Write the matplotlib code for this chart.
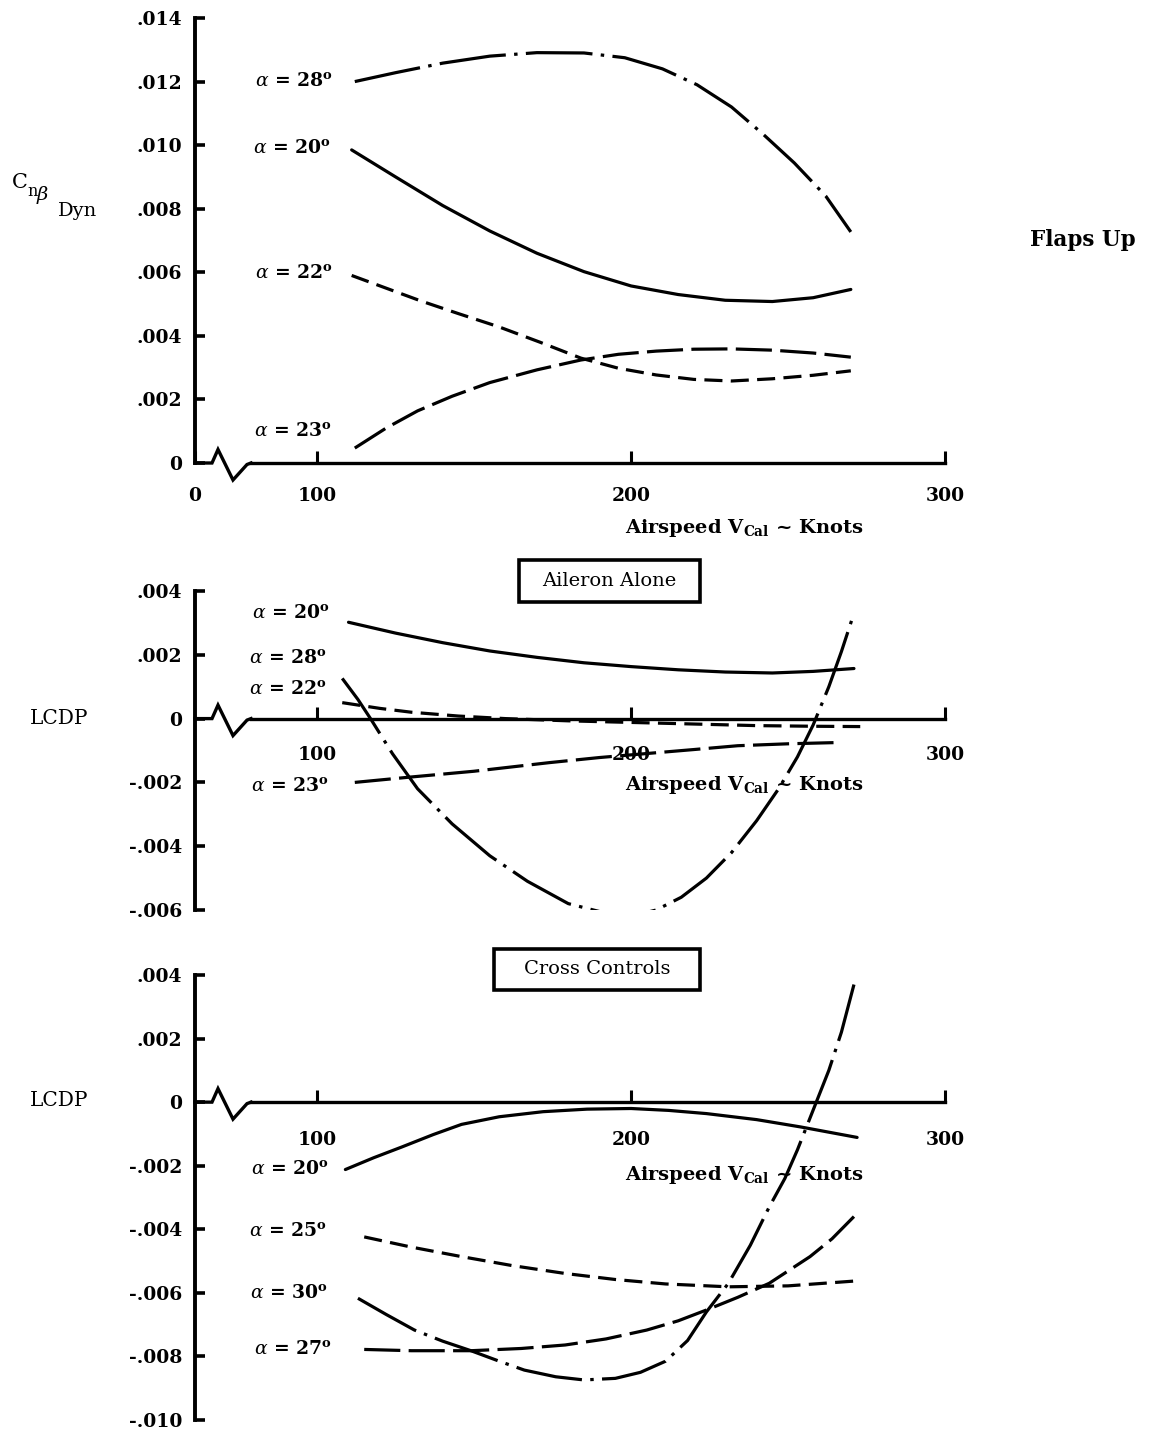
import matplotlib
matplotlib.use("Agg")
import matplotlib.pyplot as plt
from matplotlib.patches import Rectangle

plt.rcParams["font.family"] = ["DejaVu Serif"]
plt.rcParams["mathtext.fontset"] = "dejavuserif"
plt.rcParams["lines.scale_dashes"] = False

# ------------------------------------------------------------------ data
# airspeed (knots) / coefficient

# Flaps up, Cn_beta_dyn
top_a28_x = [112, 125, 140, 155, 170, 185, 198, 210, 221, 232, 242, 252, 262, 270]
top_a28_y = [0.0120, 0.01228, 0.01258, 0.01280, 0.01291, 0.01290, 0.01275, 0.01240,
             0.01190, 0.01120, 0.01035, 0.00944, 0.00840, 0.00727]
top_a20_x = [111, 125, 140, 155, 170, 185, 200, 215, 230, 245, 258, 270]
top_a20_y = [0.00985, 0.0090, 0.0081, 0.0073, 0.0066, 0.00602, 0.00557, 0.0053,
             0.00512, 0.00508, 0.0052, 0.00546]
top_a22_x = [111, 122, 133, 145, 158, 171, 184, 196, 208, 220, 232, 245, 258, 270]
top_a22_y = [0.0059, 0.0055, 0.0051, 0.0047, 0.00428, 0.0038, 0.0033, 0.00298,
             0.00277, 0.00263, 0.00258, 0.00265, 0.00276, 0.0029]
top_a23_x = [112, 122, 132, 143, 155, 170, 184, 196, 208, 220, 232, 245, 258, 270]
top_a23_y = [0.00047, 0.0011, 0.00164, 0.0021, 0.00253, 0.00293, 0.00324, 0.00342,
             0.00352, 0.00358, 0.00359, 0.00355, 0.00346, 0.00333]

# Aileron alone, LCDP
mid_a20_x = [110, 125, 140, 155, 170, 185, 200, 215, 230, 245, 258, 271]
mid_a20_y = [0.00302, 0.00268, 0.00238, 0.00212, 0.00192, 0.00175, 0.00163, 0.00153,
             0.00146, 0.00143, 0.00148, 0.00157]
mid_a28_x = [108, 113, 117, 124, 132, 143, 155, 167, 180, 192, 200, 208, 216, 224,
             232, 240, 247, 253, 258, 263, 267, 271]
mid_a28_y = [0.00126, 0.0006, 0.0, -0.0011, -0.0022, -0.0033, -0.0043, -0.0051,
             -0.0058, -0.0061, -0.0062, -0.0060, -0.0056, -0.0050, -0.0042, -0.0032,
             -0.0022, -0.0012, -0.0002, 0.0010, 0.0021, 0.0033]
mid_a22_x = [108, 120, 130, 145, 160, 180, 200, 220, 240, 258, 273]
mid_a22_y = [0.0005, 0.00032, 0.0002, 0.00008, 0.0, -0.00007, -0.00012, -0.00017,
             -0.00022, -0.00024, -0.00025]
mid_a23_x = [112, 130, 150, 174, 190, 208, 220, 234, 250, 266]
mid_a23_y = [-0.0020, -0.00183, -0.00165, -0.00138, -0.00122, -0.00107, -0.00097,
             -0.00085, -0.00079, -0.00075]

# Cross controls, LCDP
bot_a20_x = [109, 118, 127, 137, 146, 158, 172, 186, 200, 212, 224, 240, 254, 272]
bot_a20_y = [-0.00212, -0.00175, -0.00141, -0.00102, -0.0007, -0.00046, -0.0003,
             -0.00022, -0.0002, -0.00026, -0.00036, -0.00055, -0.00078, -0.00111]
bot_a25_x = [115, 130, 146, 162, 179, 195, 211, 231, 250, 271]
bot_a25_y = [-0.00424, -0.00456, -0.00486, -0.00514, -0.00539, -0.00558, -0.00572,
             -0.00581, -0.00578, -0.00563]
bot_a30_x = [113, 122, 131, 140, 149, 158, 166, 176, 185, 195, 203, 211, 218, 224,
             231, 238, 244, 249, 253, 259, 263, 267, 271]
bot_a30_y = [-0.00617, -0.00668, -0.00717, -0.00752, -0.00782, -0.00815, -0.00843,
             -0.00864, -0.00874, -0.00869, -0.0085, -0.00815, -0.0075, -0.0066,
             -0.0057, -0.0045, -0.0033, -0.0024, -0.0015, 0.0, 0.001, 0.0022, 0.0037]
bot_a27_x = [115, 130, 149, 165, 179, 192, 205, 215, 224, 234, 244, 257, 264, 271]
bot_a27_y = [-0.00778, -0.00782, -0.00782, -0.00775, -0.00764, -0.00745, -0.00717,
             -0.00688, -0.00654, -0.00614, -0.0057, -0.00486, -0.0043, -0.0036]

top_yticks = [0, 0.002, 0.004, 0.006, 0.008, 0.010, 0.012, 0.014]
top_ylabels = ["0", ".002", ".004", ".006", ".008", ".010", ".012", ".014"]
mid_yticks = [-0.006, -0.004, -0.002, 0, 0.002, 0.004]
mid_ylabels = ["-.006", "-.004", "-.002", "0", ".002", ".004"]
bot_yticks = [-0.010, -0.008, -0.006, -0.004, -0.002, 0, 0.002, 0.004]
bot_ylabels = ["-.010", "-.008", "-.006", "-.004", "-.002", "0", ".002", ".004"]

# ------------------------------------------------------------------ layout
W, H = 1162, 1432
K = "black"
XLO, XHI = 61.1, 300          # the broken axis starts at the "0" mark
LEFT_PX, RIGHT_PX = 195, 945

SOLID = "-"
DASH_SHORT = (0, (13, 6))
DASH_LONG = (0, (26, 6))
DASH_DOT = (0, (48, 6, 2.5, 6))

fig = plt.figure(figsize=(W / 100, H / 100), dpi=100)
fig.patch.set_facecolor("white")


def pax(top_px, bot_px):
    return fig.add_axes([LEFT_PX / W, 1 - bot_px / H,
                         (RIGHT_PX - LEFT_PX) / W, (bot_px - top_px) / H])


def ftext(xp, yp, s, **kw):
    kw.setdefault("va", "center")
    kw.setdefault("ha", "left")
    kw.setdefault("fontsize", 13.5)
    kw.setdefault("fontweight", "bold")
    fig.text(xp / W, 1 - yp / H, s, color=K, **kw)


def frame(ax, ylo, yhi, yticks, ylabels, xticks, xlabels, xpad, top_px, bot_px):
    ax.set_xlim(XLO, XHI)
    ax.set_ylim(ylo, yhi)
    for s in ("top", "right"):
        ax.spines[s].set_visible(False)
    ax.spines["left"].set_linewidth(2.8)
    ax.spines["bottom"].set_position(("data", 0))
    ax.spines["bottom"].set_linewidth(2.4)
    sx = (XHI - XLO) / (RIGHT_PX - LEFT_PX)
    sy = (yhi - ylo) / (bot_px - top_px)
    # axis break squiggle next to the spine (pixel offsets)
    brk_dx = [0, 17, 23, 38, 52, 56]
    brk_dy = [0, 0, -13.5, 17, 1.5, 0]
    ax.plot([XLO + d * sx for d in brk_dx], [-d * sy for d in brk_dy],
            color=K, lw=2.4, clip_on=False, solid_joinstyle="miter", zorder=4)
    ax.spines["bottom"].set_bounds(XLO + 56 * sx, XHI)
    ax.set_yticks(yticks)
    ax.set_yticklabels(ylabels, fontsize=13.5, fontweight="bold")
    ax.set_xticks(xticks)
    ax.set_xticklabels(xlabels, fontsize=13.5, fontweight="bold")
    ax.tick_params(axis="y", direction="in", length=7, width=2.6, pad=9)
    ax.tick_params(axis="x", direction="in", length=9, width=2.2, pad=xpad)
    ax.patch.set_alpha(0)


def curve(ax, x, y, ls):
    ax.plot(x, y, color=K, lw=2.3, linestyle=ls, solid_capstyle="round",
            solid_joinstyle="round", dash_capstyle="butt", zorder=3)


# ---------------------------------------------------------- top: flaps up
ax1 = pax(18, 463)
frame(ax1, 0, 0.014, top_yticks, top_ylabels,
      [XLO, 100, 200, 300], ["0", "100", "200", "300"], 17, 18, 463)
curve(ax1, top_a28_x, top_a28_y, DASH_DOT)
curve(ax1, top_a20_x, top_a20_y, SOLID)
curve(ax1, top_a22_x, top_a22_y, DASH_SHORT)
curve(ax1, top_a23_x, top_a23_y, DASH_LONG)

# ---------------------------------------------------- middle: aileron alone
ax2 = pax(591, 910)
frame(ax2, -0.006, 0.004, mid_yticks, mid_ylabels,
      [100, 200, 300], ["100", "200", "300"], 20, 591, 910)
curve(ax2, mid_a20_x, mid_a20_y, SOLID)
curve(ax2, mid_a28_x, mid_a28_y, DASH_DOT)
curve(ax2, mid_a22_x, mid_a22_y, DASH_SHORT)
curve(ax2, mid_a23_x, mid_a23_y, DASH_LONG)

# ---------------------------------------------------- bottom: cross controls
ax3 = pax(975, 1420)
frame(ax3, -0.010, 0.004, bot_yticks, bot_ylabels,
      [100, 200, 300], ["100", "200", "300"], 21, 975, 1420)
curve(ax3, bot_a20_x, bot_a20_y, SOLID)
curve(ax3, bot_a25_x, bot_a25_y, DASH_SHORT)
curve(ax3, bot_a30_x, bot_a30_y, DASH_DOT)
curve(ax3, bot_a27_x, bot_a27_y, DASH_LONG)

# ------------------------------------------------------------------ texts
DEG = r"$^{\mathregular{o}}$"
curve_labels = [
    (255, 81, "28"), (253, 148, "20"), (255, 273, "22"), (254, 431, "23"),
    (252, 613, "20"), (249, 658, "28"), (249, 689, "22"), (251, 786, "23"),
    (251, 1169, "20"), (249, 1231, "25"), (250, 1293, "30"), (254, 1349, "27"),
]
for xp, yp, a in curve_labels:
    ftext(xp, yp, r"$\alpha$ = " + a + DEG)

for yp in (528, 785, 1175):
    ftext(625, yp, r"Airspeed V$_{\mathregular{Cal}}$ ~ Knots", fontsize=14)

# C n beta Dyn, built from pieces
ftext(12, 183, "C", fontsize=15, fontweight="normal")
ftext(27, 192, "n", fontsize=11.5, fontweight="normal")
ftext(36, 195, r"$\beta$", fontsize=14, fontweight="normal")
ftext(58, 211, "Dyn", fontsize=14, fontweight="normal")

ftext(30, 718, "LCDP", fontsize=14.5, fontweight="normal")
ftext(30, 1101, "LCDP", fontsize=14.5, fontweight="normal")
ftext(1030, 240, "Flaps Up", fontsize=15.5)

for (x0, y0, x1, y1, s) in [(519, 560, 700, 602, "Aileron Alone"),
                            (494, 949, 700, 990, "Cross Controls")]:
    fig.add_artist(Rectangle((x0 / W, 1 - y1 / H), (x1 - x0) / W, (y1 - y0) / H,
                             transform=fig.transFigure, fill=False,
                             edgecolor=K, lw=2.6))
    ftext((x0 + x1) / 2, (y0 + y1) / 2, s, ha="center", fontsize=14,
          fontweight="normal")

fig.savefig("out.png", dpi=100, facecolor="white")
